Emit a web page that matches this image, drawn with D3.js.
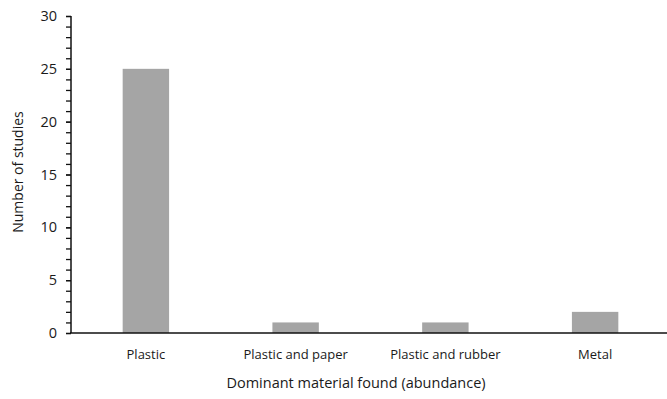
<!DOCTYPE html>
<html><head><meta charset="utf-8">
<script src="https://cdn.jsdelivr.net/npm/d3@7"></script>
<style>body{margin:0;background:#fff}svg text{font-family:"Open Sans",sans-serif;fill:#1a1a1a}</style>
</head><body><svg id="c" width="667" height="399"></svg>
<script>
const categories = ["Plastic", "Plastic and paper", "Plastic and rubber", "Metal"];
const values = [25, 1, 1, 2];
const yTicks = [0, 5, 10, 15, 20, 25, 30];
const xTitle = "Dominant material found (abundance)";
const yTitle = "Number of studies";

const svg = d3.select("#c");
const x = d3.scaleBand().domain(categories).range([71, 670]).paddingInner(0.69).paddingOuter(0.345);
const y = d3.scaleLinear().domain([0, 30]).range([333, 16]);

svg.selectAll("rect.bar").data(values).enter().append("rect")
  .attr("class", "bar")
  .attr("x", (d, i) => x(categories[i]))
  .attr("width", x.bandwidth())
  .attr("y", d => y(d))
  .attr("height", d => y(0) - y(d))
  .attr("fill", "#a5a5a5");

// y axis
const ya = svg.append("g").attr("transform", "translate(71,0)")
  .call(d3.axisLeft(y).tickValues(yTicks).tickSize(5).tickPadding(9));
ya.select(".domain").remove();
ya.selectAll(".tick line").attr("stroke", "#111").attr("stroke-width", 1.3);
ya.selectAll(".tick text").attr("font-size", 14.5).attr("fill", "#1a1a1a");
svg.append("g").attr("transform", "translate(71,0)")
  .call(d3.axisLeft(y).ticks(30).tickSize(5).tickFormat(""))
  .call(g => g.select(".domain").remove())
  .selectAll(".tick line").attr("stroke", "#111").attr("stroke-width", 1.3);
svg.append("line").attr("x1", 71).attr("x2", 71).attr("y1", y(30)).attr("y2", y(0))
  .attr("stroke", "#111").attr("stroke-width", 1.5);

// x axis
svg.append("line").attr("x1", 70).attr("x2", 667).attr("y1", y(0)).attr("y2", y(0))
  .attr("stroke", "#111").attr("stroke-width", 1.5);
const xa = svg.append("g").attr("transform", "translate(0,333)")
  .call(d3.axisBottom(x).tickSize(0).tickPadding(17));
xa.select(".domain").remove();
xa.selectAll(".tick text").attr("font-size", 13).attr("fill", "#1a1a1a");

svg.append("text").attr("x", 356).attr("y", 388).attr("text-anchor", "middle")
  .attr("font-size", 14.5).text(xTitle);
svg.append("text").attr("transform", "translate(23,172) rotate(-90)").attr("text-anchor", "middle")
  .attr("font-size", 14).text(yTitle);
</script></body></html>
